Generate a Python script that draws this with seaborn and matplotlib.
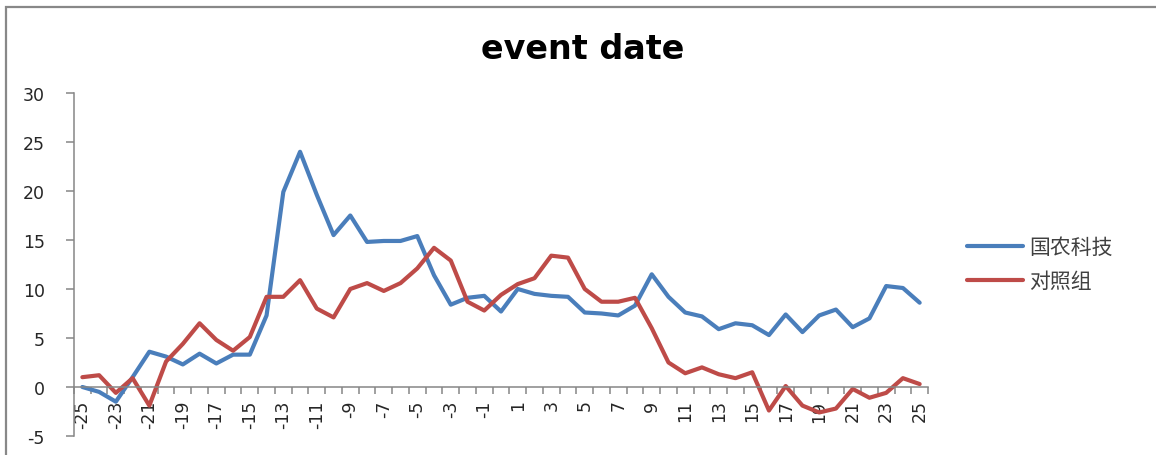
import matplotlib
matplotlib.use("Agg")
import matplotlib.pyplot as plt
from matplotlib.patches import Rectangle
from matplotlib.ticker import MultipleLocator, FixedLocator
import seaborn as sns
import pandas as pd

# event window days
days = list(range(-25, 26))

# 国农科技
guonong = [0.0, -0.5, -1.5, 1.0, 3.6, 3.1, 2.3, 3.4, 2.4, 3.3,
           3.3, 7.3, 19.9, 24.0, 19.6, 15.5, 17.5, 14.8, 14.9, 14.9,
           15.4, 11.4, 8.4, 9.1, 9.3, 7.7, 10.0, 9.5, 9.3, 9.2,
           7.6, 7.5, 7.3, 8.3, 11.5, 9.2, 7.6, 7.2, 5.9, 6.5,
           6.3, 5.3, 7.4, 5.6, 7.3, 7.9, 6.1, 7.0, 10.3, 10.1, 8.6]

# 对照组
control = [1.0, 1.2, -0.6, 0.9, -1.9, 2.6, 4.4, 6.5, 4.8, 3.7,
           5.1, 9.2, 9.2, 10.9, 8.0, 7.1, 10.0, 10.6, 9.8, 10.6,
           12.1, 14.2, 12.9, 8.7, 7.8, 9.4, 10.5, 11.1, 13.4, 13.2,
           10.0, 8.7, 8.7, 9.1, 6.0, 2.5, 1.4, 2.0, 1.3, 0.9,
           1.5, -2.4, 0.1, -1.9, -2.6, -2.2, -0.2, -1.1, -0.6, 0.9, 0.3]

series_names = ["国农科技", "对照组"]
colors = ["#4A7EBB", "#BE4B48"]

df = pd.DataFrame({
    "day": days * 2,
    "value": guonong + control,
    "group": [series_names[0]] * len(days) + [series_names[1]] * len(days),
})

sns.set_style("white")
plt.rcParams["font.family"] = ["DejaVu Sans", "Noto Sans CJK SC"]
plt.rcParams["axes.unicode_minus"] = False

fig = plt.figure(figsize=(11.56, 4.56), dpi=100)
ax = fig.add_axes([0.064, 0.0417, 0.7388, 0.7522])

sns.lineplot(data=df, x="day", y="value", hue="group", hue_order=series_names,
             palette=colors, lw=3.0, ax=ax, legend=True)

ax.set_xlim(-25.5, 25.5)
ax.set_ylim(-5, 30)
ax.set_xlabel("")
ax.set_ylabel("")

axis_grey = "#868686"
for s in ["top", "right"]:
    ax.spines[s].set_visible(False)
ax.spines["left"].set_color(axis_grey)
ax.spines["left"].set_linewidth(1.1)
ax.spines["bottom"].set_position(("data", 0))
ax.spines["bottom"].set_color(axis_grey)
ax.spines["bottom"].set_linewidth(1.1)

ax.yaxis.set_major_locator(MultipleLocator(5))
ax.tick_params(axis="y", direction="out", length=6, width=1.1, color=axis_grey,
               labelsize=12.5, pad=15, left=True)

ax.xaxis.set_major_locator(FixedLocator(list(range(-25, 26, 2))))
ax.xaxis.set_minor_locator(FixedLocator([d + 0.5 for d in range(-26, 26)]))
ax.tick_params(axis="x", which="major", length=0, labelsize=12.5, pad=9,
               labelrotation=90, bottom=True)
ax.tick_params(axis="x", which="minor", direction="out", length=5, width=1.1,
               color=axis_grey, bottom=True)

leg = ax.legend(loc="center left", bbox_to_anchor=(0.8365, 0.419),
                bbox_transform=fig.transFigure, frameon=False, borderpad=0,
                borderaxespad=0, handlelength=2.7, handletextpad=0.3,
                labelspacing=0.58,
                prop={"family": "Noto Sans CJK SC", "size": 15},
                labelcolor="#404040")
for h in leg.legend_handles:
    h.set_linewidth(3.0)

fig.text(0.504, 1 - 59 / 456, "event date", ha="center", va="baseline",
         fontsize=24, fontweight="bold", color="black")

# chart area frame (cut off at right and bottom)
fig.patches.append(Rectangle((6 / 1156, -0.2), 1.2, 1.2 - 8 / 456,
                             transform=fig.transFigure, fill=False,
                             edgecolor="#888888", linewidth=1.6))

fig.savefig("out.png", dpi=100)
